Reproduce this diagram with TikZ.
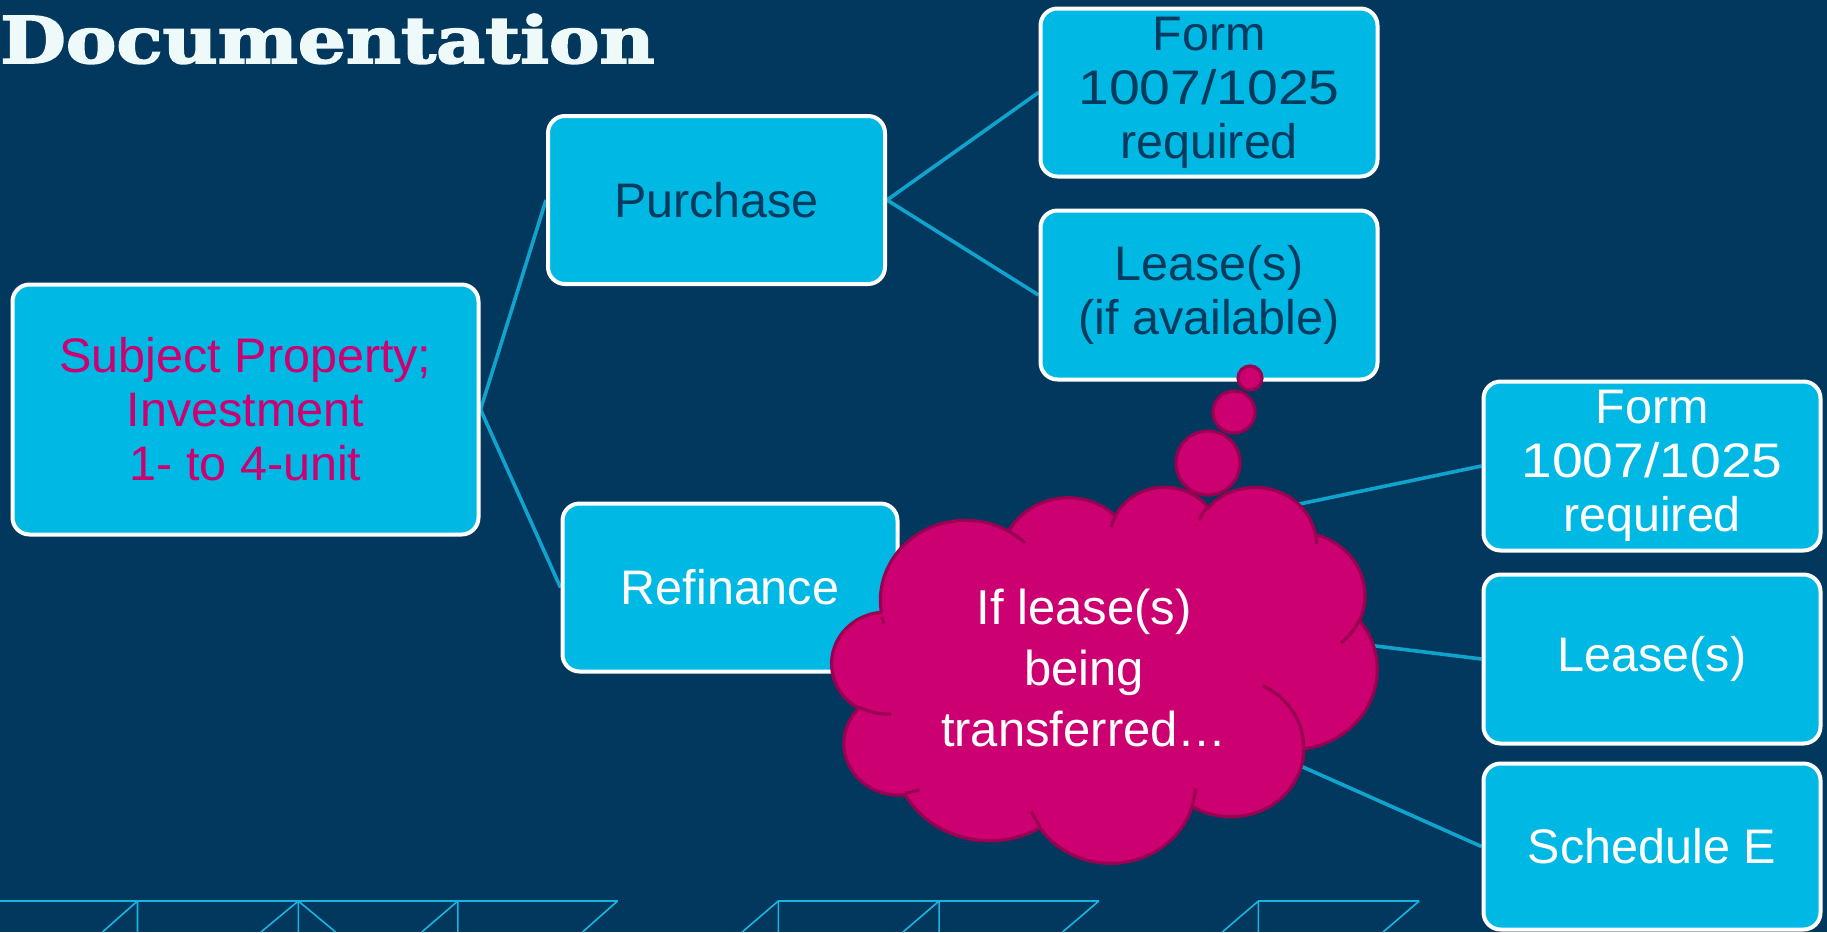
\documentclass[tikz,border=0pt]{standalone}
\usepackage{fontspec}
\setmainfont{Liberation Sans}
\newfontfamily\titlefont{DejaVu Serif}[FakeBold=2.5]
\usetikzlibrary{backgrounds}

\definecolor{bgnavy}{HTML}{02385D}
\definecolor{boxcyan}{HTML}{00B8E4}
\definecolor{linkcyan}{HTML}{0FA3CD}
\definecolor{navytext}{HTML}{023B5E}
\definecolor{cloudpink}{HTML}{CC0070}
\definecolor{cloudedge}{HTML}{9A0052}
\definecolor{patcyan}{HTML}{16B6E2}
\definecolor{titlewhite}{HTML}{EEF9FA}

\pgfdeclarelayer{back}
\pgfdeclarelayer{links}
\pgfsetlayers{back,links,main}

% elliptical arc given as radii plus visual start angle and sweep (degrees)
\newcommand\ovarc[4]{arc[start angle={atan2(sin(#3)/#2,cos(#3)/#1)},
  delta angle={mod(atan2(sin(#3+#4)/#2,cos(#3+#4)/#1)-atan2(sin(#3)/#2,cos(#3)/#1)+720,360)},
  x radius=#1, y radius=#2]}
% wide figures for the form number
\newcommand\formno{\scalebox{1.14}[1]{1007/1025}}

\tikzset{
  box/.style={draw=white, line width=4pt, fill=boxcyan, rounded corners=17pt,
    align=center, inner sep=0pt, font=\fontsize{48.5}{54}\selectfont,
    minimum width=337pt, minimum height=168pt},
  link/.style={draw=linkcyan, line width=3.6pt},
  puff/.style={fill=cloudpink, draw=cloudedge, line width=3.2pt},
  crease/.style={draw=cloudedge, line width=3.2pt},
  grid line/.style={draw=patcyan, line width=1.6pt},
  grid top/.style={draw=patcyan, line width=2.2pt},
}

\begin{document}
\begin{tikzpicture}[x=1pt, y=1pt, yscale=-1]
\useasboundingbox (0,0) rectangle (1827,932);
\begin{pgfonlayer}{back}
  \fill[bgnavy] (0,0) rectangle (1827,932);
\end{pgfonlayer}

% heading
\node[anchor=base west, inner sep=0pt, text=titlewhite] (title) at (0,63)
  {\resizebox{654pt}{49pt}{\titlefont\bfseries Documentation}};

% tree of boxes
\node[box, minimum width=466pt, minimum height=250pt, text=cloudpink] (subj) at (245.5,409.5)
  {Subject Property;\\Investment\\1- to 4-unit};
\node[box, text=navytext] (purch) at (716.5,200) {Purchase};
\node[box, text=navytext] (form1) at (1209,92.5) {Form\\\formno\\required};
\node[box, minimum height=169pt, text=navytext] (lease1) at (1209,295) {Lease(s)\\(if available)};
\node[box, minimum width=335pt, text=white] (refi) at (730,587.5) {Refinance};
\node[box, minimum height=169pt, text=white] (form2) at (1652,466) {Form\\\formno\\required};
\node[box, minimum height=169pt, text=white] (lease2) at (1652,659) {Lease(s)};
\node[box, minimum height=166pt, text=white] (sched) at (1652,846.5) {Schedule E};

\begin{pgfonlayer}{links}
  \draw[link] (subj.east) -- (purch.west);
  \draw[link] (subj.east) -- (refi.west);
  \draw[link] (purch.east) -- (form1.west);
  \draw[link] (purch.east) -- (lease1.west);
  \draw[link] (refi.east) -- (form2.west);
  \draw[link] (refi.east) -- (lease2.west);
  \draw[link] (refi.east) -- (sched.west);
\end{pgfonlayer}

% thought cloud
\begin{scope}[shift={(832,486)}, xscale=545/43.2, yscale=376/43.2]
  \path[puff] (3.9,14.37)
    \ovarc{6.753}{9.19}{-190.48748}{123.78053}
    \ovarc{5.333}{7.267}{-144.10238}{89.94523}
    \ovarc{4.365}{5.945}{-145.80792}{99.72302}
    \ovarc{4.857}{6.595}{-130.98607}{117.24173}
    \ovarc{5.333}{7.273}{-78.70888}{109.02692}
    \ovarc{6.775}{9.22}{-46.26725}{130.269}
    \ovarc{5.785}{7.867}{0.62502}{114.03333}
    \ovarc{6.752}{9.215}{22.4516}{115.17255}
    \ovarc{7.72}{10.543}{66.24263}{75.71102}
    \ovarc{4.36}{5.918}{-274.94208}{146.73557}
    \ovarc{4.345}{5.945}{-246.8285}{152.51885}
    -- cycle;
  \path[crease]
    (4.693,26.177) \ovarc{4.345}{5.945}{86.742}{26.4295}
    (6.928,34.899) \ovarc{4.36}{5.918}{73.61047}{11.44747}
    (16.478,39.09) \ovarc{6.752}{9.215}{137.62415}{14.0811}
    (28.827,34.751) \ovarc{6.752}{9.215}{6.45327}{15.99835}
    (34.129,22.954) \ovarc{5.785}{7.867}{-70.29235}{70.91737}
    (41.798,15.354) \ovarc{5.333}{7.273}{30.31803}{27.7515}
    (38.324,5.426) \ovarc{4.857}{6.595}{-13.74433}{14.8589}
    (29.078,3.952) \ovarc{4.857}{6.595}{-149.18145}{18.19537}
    (22.141,4.72) \ovarc{4.365}{5.945}{-163.49427}{17.68635}
    (14,5.192) \ovarc{6.753}{9.19}{-66.70695}{12.31935}
    (4.127,15.789) \ovarc{6.753}{9.19}{153.94597}{6.05533};
\end{scope}
\path[puff] (1208,463) circle[radius=32];
\path[puff] (1234,412) circle[radius=21];
\path[puff] (1250,378) circle[radius=12];
\node[align=center, text=white, font=\fontsize{49}{61}\selectfont, inner sep=0pt] (thought) at (1084,668)
  {If lease(s)\\being\\transferred\ldots};

% wireframe strip along the bottom edge
\draw[grid top] (0,901) -- (617.5,901);
\draw[grid top] (778.3,901) -- (1098.8,901);
\draw[grid top] (1258.4,901) -- (1419.2,901);
\draw[grid line] (137.5,901) -- (137.5,932) (137.5,901) -- (102.5,932);
\draw[grid line] (298.3,901) -- (298.3,932) (298.3,901) -- (261,932) (298.3,901) -- (335.6,932);
\draw[grid line] (457.9,901) -- (457.9,932) (457.9,901) -- (421.8,932);
\draw[grid line] (617.5,901) -- (582.6,932);
\draw[grid line] (778.3,901) -- (778.3,932) (778.3,901) -- (742.2,932);
\draw[grid line] (939.1,901) -- (939.1,932) (939.1,901) -- (903,932);
\draw[grid line] (1098.8,901) -- (1062.6,932);
\draw[grid line] (1258.4,901) -- (1258.4,932) (1258.4,901) -- (1222.3,932);
\draw[grid line] (1419.2,901) -- (1383.1,932);
\end{tikzpicture}
\end{document}
